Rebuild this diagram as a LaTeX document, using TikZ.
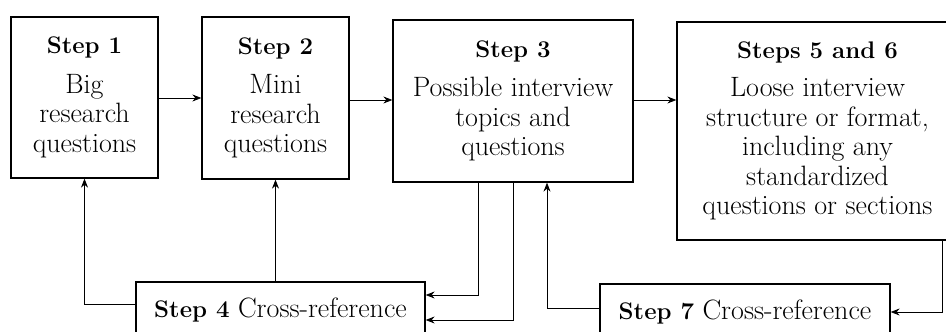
\documentclass[tikz,border=0pt]{standalone}
\usetikzlibrary{arrows.meta}
\newcommand{\hd}[1]{{\fontsize{24}{29.5}\selectfont\bfseries #1}}
\begin{document}
\begin{tikzpicture}[x=1pt,y=-1pt,
  stepbox/.style={draw, line width=1.3pt, align=center, inner sep=0pt,
    font=\fontsize{28}{29.5}\selectfont},
  link/.style={line width=0.8pt, -{Stealth[length=9pt,width=7pt,inset=3pt]}}]
\useasboundingbox (0,0) rectangle (946,332);
\clip (0,0) rectangle (946,332);

% top row of steps
\node[stepbox, minimum width=147pt, minimum height=161pt] (b1) at (84.5,97.5)
  {\hd{Step 1}\\[10pt]Big\\research\\questions};
\node[stepbox, minimum width=147pt, minimum height=162pt] (b2) at (275.5,98)
  {\hd{Step 2}\\[10pt]Mini\\research\\questions};
\node[stepbox, minimum width=240pt, minimum height=162pt] (b3) at (513,101)
  {\hd{Step 3}\\[10pt]Possible interview\\topics and\\questions};
\node[stepbox, minimum width=281pt, minimum height=218pt] (b56) at (817.5,131)
  {\hd{Steps 5 and 6}\\[9pt]Loose interview\\structure or format,\\including any\\standardized\\questions or sections};

% cross-reference steps
\node[stepbox, minimum width=289pt, minimum height=56pt] (b4) at (280.5,310)
  {\hd{Step 4} Cross-reference};
\node[stepbox, minimum width=290pt, minimum height=56pt] (b7) at (745,312)
  {\hd{Step 7} Cross-reference};

% forward flow
\draw[link] (b1.east |- 0,98) -- (b2.west |- 0,98);
\draw[link] (b2.east |- 0,100) -- (b3.west |- 0,100);
\draw[link] (b3.east |- 0,100) -- (b56.west |- 0,100);

% feedback from step 4
\draw[link] (b4.west |- 0,304) -| (b1.south);
\draw[link] (b4.north -| b2.south) -- (b2.south);

% step 3 into step 4
\draw[link] (b3.south -| 478,0) |- (b4.east |- 0,295);
\draw[link] (b3.south) |- (b4.east |- 0,320);

% step 7 back to step 3, steps 5/6 into step 7
\draw[link] (b7.west |- 0,308) -| (b3.south -| 547,0);
\draw[link] (b56.south -| 942,0) |- (b7.east |- 0,312);
\end{tikzpicture}
\end{document}
